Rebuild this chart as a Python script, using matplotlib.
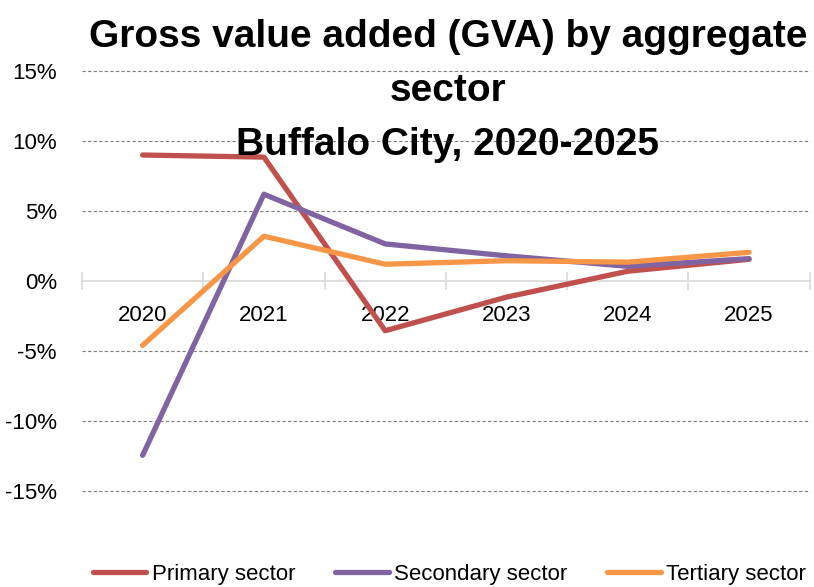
import numpy as np
import matplotlib
matplotlib.use("Agg")
import matplotlib.pyplot as plt
from matplotlib.ticker import FixedLocator, PercentFormatter

# GVA growth by aggregate sector, Buffalo City (percent)
years = ["2020", "2021", "2022", "2023", "2024", "2025"]
primary = [9.0, 8.85, -3.55, -1.15, 0.7, 1.55]
secondary = [-12.45, 6.2, 2.65, 1.8, 1.05, 1.6]
tertiary = [-4.6, 3.2, 1.2, 1.45, 1.35, 2.05]

series = [
    ("Primary sector", primary, "#C0504D"),
    ("Secondary sector", secondary, "#8064A2"),
    ("Tertiary sector", tertiary, "#F79646"),
]
title_lines = ["Gross value added (GVA) by aggregate", "sector", "Buffalo City, 2020-2025"]

plt.rcParams["font.family"] = ["Liberation Sans", "DejaVu Sans"]
plt.rcParams["axes.unicode_minus"] = False

fig = plt.figure(figsize=(8.14, 5.87), dpi=100)
ax = fig.add_axes([0.1007, 0.1635, 0.894, 0.7155])

x = np.arange(len(years))
for name, vals, col in series:
    ax.plot(x, vals, color=col, lw=3.8, label=name,
            solid_capstyle="round", solid_joinstyle="round", zorder=3)

ax.set_xlim(-0.5, len(years) - 0.5)
ax.set_ylim(-15, 15)
ax.set_yticks([-15, -10, -5, 0, 5, 10, 15])
ax.yaxis.set_major_formatter(PercentFormatter(decimals=0))
ax.tick_params(axis="y", length=0, pad=18, labelsize=16)

# dashed gridlines, none at zero
for v in [-15, -10, -5, 5, 10, 15]:
    ax.axhline(v, color="#7f7f7f", lw=0.8, ls=(0, (3, 2)), zorder=0, clip_on=False)

for s in ["top", "right", "left"]:
    ax.spines[s].set_visible(False)
ax.spines["bottom"].set_position(("data", 0))
ax.spines["bottom"].set_color("#D9D9D9")
ax.spines["bottom"].set_linewidth(1.2)
ax.spines["bottom"].set_zorder(0.5)

ax.set_xticks(x)
ax.set_xticklabels(years)
ax.tick_params(axis="x", which="major", length=0, pad=17, labelsize=16)
ax.xaxis.set_minor_locator(FixedLocator(np.arange(-0.5, len(years), 1.0)))
ax.tick_params(axis="x", which="minor", length=13, direction="inout", color="#D9D9D9", width=1.2)

# title, one line at a time (baselines in pixels from the top)
for txt, y_px in zip(title_lines, [47, 101, 155]):
    fig.text(448 / 814, 1 - y_px / 587, txt, ha="center", va="baseline",
             fontsize=28, fontweight="bold")

ax.legend(loc="center", bbox_to_anchor=(0.505, -0.198), ncol=3, frameon=False,
          fontsize=16, handlelength=2.4, handletextpad=0.25, columnspacing=1.8)

fig.savefig("out.png", dpi=100)
